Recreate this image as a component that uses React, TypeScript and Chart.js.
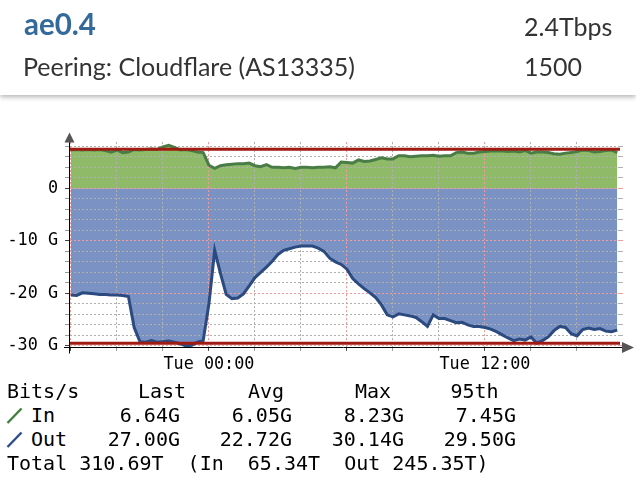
import React, { useEffect, useRef } from 'react';
import { Chart, registerables } from 'chart.js';

Chart.register(...registerables);

// ---- data (hours relative to Tue 00:00, 15-minute samples) ----
const startHour = -6.0;
const stepHour = 0.25;
const xMin = -6.04;
const xMax = 17.87;

const inValues = [
  7.3, 7.4, 7.3, 7.4, 7.3, 7.4, 7.2, 6.9, 7.3, 6.8,
  6.9, 7.4, 7.3, 7.4, 7.5, 7.4, 7.9, 8.2, 7.8, 7.3,
  7.4, 7.2, 6.9, 6.8, 4.4, 3.8, 4.3, 4.5, 4.6, 4.7,
  4.7, 4.8, 4.3, 4.1, 4.5, 4.0, 4.0, 3.9, 4.0, 3.8,
  4.0, 4.0, 3.9, 4.0, 4.0, 4.1, 3.9, 5.0, 4.9, 4.8,
  5.4, 5.1, 5.2, 5.5, 5.8, 5.6, 5.6, 6.2, 6.2, 6.0,
  6.1, 6.2, 6.2, 6.3, 6.1, 6.2, 6.2, 6.8, 6.9, 6.7,
  6.7, 6.9, 7.0, 7.1, 7.1, 7.1, 7.0, 7.1, 6.9, 7.2,
  6.7, 6.9, 6.9, 6.8, 6.6, 6.5, 6.7, 6.8, 7.0, 7.3,
  7.2, 6.9, 7.0, 7.2, 7.3, 6.8,
];

const outValues = [
  -20.3, -20.4, -19.9, -20.0, -20.1, -20.2, -20.2, -20.3, -20.3, -20.4,
  -20.6, -26.5, -29.2, -29.3, -29.0, -29.3, -29.2, -29.1, -29.3, -29.6,
  -30.0, -29.9, -29.3, -29.0, -22.0, -11.8, -16.2, -20.2, -21.0, -20.9,
  -20.1, -18.6, -17.0, -16.0, -15.0, -13.9, -12.6, -11.8, -11.5, -11.2,
  -11.0, -11.0, -11.0, -11.4, -12.0, -13.3, -14.0, -14.5, -15.4, -17.2,
  -18.2, -19.1, -19.9, -20.8, -22.2, -24.1, -24.5, -23.9, -24.1, -24.3,
  -24.6, -25.4, -26.3, -24.1, -24.8, -24.8, -25.2, -25.6, -25.5, -26.0,
  -26.3, -26.3, -26.5, -26.8, -27.3, -27.9, -28.5, -29.0, -28.7, -28.9,
  -28.3, -29.5, -29.0, -28.3, -27.1, -26.3, -26.5, -27.7, -28.1, -26.9,
  -26.6, -26.9, -26.7, -27.2, -27.3, -27.0,
];

const in95th = 7.45;
const out95th = -29.5;

const yTickValues = [-30, -28, -26, -24, -22, -20, -18, -16, -14, -12, -10, -8, -6, -4, -2, 0, 2, 4, 6, 8];
const yMajorValues = [-30, -20, -10, 0];
const yTickLabels: Record<string, string> = { '0': '0', '-10': '-10 G', '-20': '-20 G', '-30': '-30 G' };

const xTickValues = [-6, -4, -2, 0, 2, 4, 6, 8, 10, 12, 14, 16];
const xMajorValues = [-6, 0, 6, 12];
const xTickLabels: Record<string, string> = { '0': 'Tue 00:00', '12': 'Tue 12:00' };

const legendHeaders = ['Last', 'Avg', 'Max', '95th'];
const inStats = ['6.64G', '6.05G', '8.23G', '7.45G'];
const outStats = ['27.00G', '22.72G', '30.14G', '29.50G'];
const totalLine = 'Total 310.69T  (In  65.34T  Out 245.35T)';

// ---- styles ----
const MONO = "'DejaVu Sans Mono', monospace";
const GRID_MINOR = '#b0b0b0';
const GRID_MAJOR = '#f29c9c';
const IN_FILL = '#8fbb69';
const IN_LINE = '#4a7d46';
const OUT_FILL = '#7a92c4';
const OUT_LINE = '#2b4a80';
const RED = '#a01b12';

const toPoints = (vals: number[]) => vals.map((v, i) => ({ x: startHour + i * stepHour, y: v }));

const gridOnTop = {
  id: 'gridOnTop',
  afterDatasetDraw(chart: any, args: any) {
    if (args.index === 4) {
      const a = chart.chartArea;
      const ctx = chart.ctx;
      ctx.save();
      ctx.beginPath();
      ctx.rect(a.left, a.top, a.right - a.left, a.bottom - a.top);
      ctx.clip();
      chart.scales.x.drawGrid(a);
      chart.scales.y.drawGrid(a);
      ctx.restore();
    }
  },
};

const rrdAxes = {
  id: 'rrdAxes',
  afterDraw(chart: any) {
    const { ctx, chartArea: a } = chart;
    ctx.save();
    ctx.strokeStyle = '#000';
    ctx.lineWidth = 1;
    const ax = Math.round(a.left) - 0.5;
    const by = Math.round(a.bottom) + 0.5;
    ctx.beginPath();
    ctx.moveTo(ax, by + 6);
    ctx.lineTo(ax, a.top);
    ctx.stroke();
    ctx.beginPath();
    ctx.moveTo(a.left - 6, by);
    ctx.lineTo(a.right + 3, by);
    ctx.stroke();
    ctx.fillStyle = '#555';
    ctx.beginPath();
    ctx.moveTo(ax - 5, a.top + 0.5);
    ctx.lineTo(ax + 5, a.top + 0.5);
    ctx.lineTo(ax, a.top - 9.5);
    ctx.closePath();
    ctx.fill();
    ctx.beginPath();
    ctx.moveTo(a.right + 2, by - 5.5);
    ctx.lineTo(a.right + 2, by + 5.5);
    ctx.lineTo(a.right + 14, by);
    ctx.closePath();
    ctx.fill();
    ctx.restore();
  },
};

const yScaleBase = (isLeft: boolean) => ({
  type: 'linear',
  position: isLeft ? 'left' : 'right',
  min: -30.2,
  max: 8.8,
  afterBuildTicks: (s: any) => {
    s.ticks = yTickValues.map((v) => ({ value: v }));
  },
  afterFit: (s: any) => {
    s.width = isLeft ? 70 : 16;
  },
  border: { display: false, dash: [2, 2] },
  grid: {
    drawOnChartArea: isLeft,
    color: (c: any) => (c.tick && yMajorValues.includes(c.tick.value) ? GRID_MAJOR : GRID_MINOR),
    tickColor: (c: any) =>
      isLeft ? (c.tick && yMajorValues.includes(c.tick.value) ? '#444' : '#999') : (c.tick && yMajorValues.includes(c.tick.value) ? GRID_MAJOR : GRID_MINOR),
    tickLength: isLeft ? 5 : 3,
    lineWidth: 1,
  },
  ticks: {
    display: isLeft,
    autoSkip: false,
    padding: 7,
    color: '#000',
    font: { family: MONO, size: 16.8 },
    callback: (v: any) => yTickLabels[String(v)] ?? '',
  },
});

export default function App() {
  const ref = useRef<HTMLCanvasElement>(null);

  useEffect(() => {
    const inPts = toPoints(inValues);
    const outPts = toPoints(outValues);
    const chart = new Chart(ref.current as HTMLCanvasElement, {
      type: 'line',
      data: {
        datasets: [
          { label: 'In 95th', data: [{ x: xMin, y: in95th }, { x: xMax, y: in95th }], borderColor: RED, borderWidth: 3, pointRadius: 0, fill: false, order: 0 },
          { label: 'Out 95th', data: [{ x: xMin, y: out95th }, { x: xMax, y: out95th }], borderColor: RED, borderWidth: 3, pointRadius: 0, fill: false, order: 0 },
          { label: 'In', data: inPts, borderColor: IN_LINE, borderWidth: 3, pointRadius: 0, fill: false, order: 1 },
          { label: 'Out', data: outPts, borderColor: OUT_LINE, borderWidth: 3, pointRadius: 0, fill: false, order: 1 },
          { label: 'In area', data: inPts, borderWidth: 0, borderColor: 'rgba(0,0,0,0)', backgroundColor: IN_FILL, pointRadius: 0, fill: 'origin', order: 2 },
          { label: 'Out area', data: outPts, borderWidth: 0, borderColor: 'rgba(0,0,0,0)', backgroundColor: OUT_FILL, pointRadius: 0, fill: 'origin', order: 2 },
        ] as any,
      },
      options: {
        responsive: false,
        animation: false,
        devicePixelRatio: 1,
        layout: { padding: { top: 42.1, right: 0, left: 0, bottom: 0 } },
        plugins: { legend: { display: false }, tooltip: { enabled: false } },
        elements: { line: { tension: 0 } },
        scales: {
          x: {
            type: 'linear',
            min: xMin,
            max: xMax,
            afterBuildTicks: (s: any) => {
              s.ticks = xTickValues.map((v) => ({ value: v }));
            },
            afterFit: (s: any) => {
              s.height = 33.1;
            },
            border: { display: false, dash: [2, 2] },
            grid: {
              color: (c: any) => (c.tick && xMajorValues.includes(c.tick.value) ? GRID_MAJOR : GRID_MINOR),
              tickColor: (c: any) => (c.tick && xMajorValues.includes(c.tick.value) ? '#444' : '#999'),
              tickLength: 4,
              lineWidth: 1,
            },
            ticks: {
              autoSkip: false,
              maxRotation: 0,
              padding: 4,
              color: '#000',
              font: { family: MONO, size: 16.8 },
              callback: (v: any) => xTickLabels[String(v)] ?? '',
            },
          },
          y: yScaleBase(true),
          y2: yScaleBase(false),
        } as any,
      },
      plugins: [gridOnTop, rrdAxes],
    });
    return () => chart.destroy();
  }, []);

  const legendTop = (baseline: number) => baseline - 18.9;
  const legendText: React.CSSProperties = {
    position: 'absolute',
    fontFamily: MONO,
    fontSize: 20,
    lineHeight: '24px',
    color: '#000',
    whiteSpace: 'pre',
  };
  const headerRights = [180, 292, 404, 516];
  const headerLefts = [138, 248, 355, 450.5];
  const rowBaselines = [397.5, 421.7, 445.9, 470.1];

  return (
    <div style={{ position: 'fixed', left: 0, top: 0, width: 636, height: 482, background: '#fff', overflow: 'hidden' }}>
      <div
        style={{
          position: 'absolute', left: 0, top: 0, width: 636, height: 95, background: '#fff',
          boxShadow: '0 2px 5px rgba(0,0,0,0.3)', fontFamily: 'Lato, sans-serif', zIndex: 2,
        }}
      >
        <div style={{ position: 'absolute', left: 24, top: 35.5 - 29.1, fontSize: 29.5, lineHeight: 1.2, fontWeight: 700, color: '#336a9a' }}>ae0.4</div>
        <div style={{ position: 'absolute', left: 23, top: 75.5 - 24.7, fontSize: 25, lineHeight: 1.2, color: '#333' }}>Peering: Cloudflare (AS13335)</div>
        <div style={{ position: 'absolute', left: 524, top: 35.5 - 24.7, fontSize: 25, lineHeight: 1.2, color: '#333' }}>2.4Tbps</div>
        <div style={{ position: 'absolute', left: 524, top: 75.5 - 24.7, fontSize: 25, lineHeight: 1.2, color: '#333' }}>1500</div>
      </div>

      <canvas ref={ref} width={636} height={280} style={{ position: 'absolute', left: 0, top: 100, width: 636, height: 280 }} />

      <div style={{ ...legendText, left: 7, top: legendTop(rowBaselines[0]) }}>Bits/s</div>
      {legendHeaders.map((h, i) => (
        <div key={h} style={{ ...legendText, left: headerLefts[i], top: legendTop(rowBaselines[0]) }}>{h}</div>
      ))}

      <svg width={20} height={20} style={{ position: 'absolute', left: 4, top: 406 }}>
        <line x1={3.5} y1={17} x2={17.5} y2={2.5} stroke="#3f7f3f" strokeWidth={2.4} />
      </svg>
      <div style={{ ...legendText, left: 31, top: legendTop(rowBaselines[1]) }}>In</div>
      {inStats.map((s, i) => (
        <div key={'in' + i} style={{ ...legendText, left: headerRights[i] - 100, width: 100, textAlign: 'right', top: legendTop(rowBaselines[1]) }}>{s}</div>
      ))}

      <svg width={20} height={20} style={{ position: 'absolute', left: 4, top: 430 }}>
        <line x1={3.5} y1={17} x2={17.5} y2={2.5} stroke="#2c4c8c" strokeWidth={2.4} />
      </svg>
      <div style={{ ...legendText, left: 31, top: legendTop(rowBaselines[2]) }}>Out</div>
      {outStats.map((s, i) => (
        <div key={'out' + i} style={{ ...legendText, left: headerRights[i] - 100, width: 100, textAlign: 'right', top: legendTop(rowBaselines[2]) }}>{s}</div>
      ))}

      <div style={{ ...legendText, left: 7, top: legendTop(rowBaselines[3]) }}>{totalLine}</div>
    </div>
  );
}
